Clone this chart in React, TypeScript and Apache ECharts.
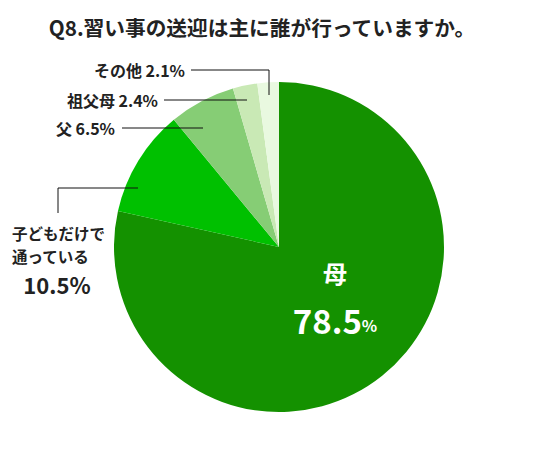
import * as echarts from "echarts";
import { useEffect, useRef } from "react";

const title = "Q8.習い事の送迎は主に誰が行っていますか。";
const names = ["母", "子どもだけで通っている", "父", "祖父母", "その他"];
const values = [78.5, 10.5, 6.5, 2.4, 2.1];
const colors = ["#149100", "#00c000", "#86cd75", "#c9e9b5", "#e9f9e0"];

const FONT = '"Noto Sans CJK JP", "Noto Sans", sans-serif';

const App: React.FC = () => {
    const node = useRef<HTMLDivElement>(null);

    useEffect(() => {
        document.body.style.margin = "0";
        const chart = echarts.init(node.current, null, { renderer: "svg" });

        const label = (text: string, x: number, y: number, size: number, align = "right") => ({
            type: "text",
            x,
            y,
            z: 100,
            style: {
                text,
                font: `bold ${size}px ${FONT}`,
                fill: "#222",
                align,
                verticalAlign: "middle",
            },
        });
        const line = (points: number[][]) => ({
            type: "polyline",
            z: 100,
            shape: { points },
            style: { stroke: "#111", lineWidth: 1, fill: null },
        });

        const option: echarts.EChartsOption = {
            animation: false,
            title: {
                text: title,
                left: 257,
                top: 12,
                textAlign: "center",
                textStyle: {
                    fontFamily: FONT,
                    fontSize: 20.7,
                    fontWeight: "bold",
                    color: "#222",
                },
            },
            series: [
                {
                    type: "pie",
                    center: [279, 247],
                    radius: 165,
                    startAngle: 90,
                    clockwise: true,
                    label: { show: false },
                    labelLine: { show: false },
                    itemStyle: { borderWidth: 0 },
                    data: names.map((n, i) => ({
                        name: n,
                        value: values[i],
                        itemStyle: { color: colors[i] },
                    })),
                },
            ],
            graphic: [
                label(`${names[4]} ${values[4]}%`, 185, 70, 16),
                label(`${names[3]} ${values[3]}%`, 158, 100, 16),
                label(`${names[2]} ${values[2]}%`, 115, 128, 16),
                label("子どもだけで", 12, 233, 15.5, "left"),
                label("通っている", 12, 256, 15.5, "left"),
                label(`${values[1]}%`, 57, 284, 22, "center"),
                line([[191, 70], [269, 70], [269, 95]]),
                line([[164, 100], [247, 100]]),
                line([[122, 128], [203, 128]]),
                line([[58, 213], [58, 188], [138, 188]]),
                {
                    type: "text",
                    x: 335,
                    y: 272,
                    z: 100,
                    style: {
                        text: names[0],
                        font: `bold 24px ${FONT}`,
                        fill: "#fff",
                        align: "center",
                        verticalAlign: "middle",
                    },
                },
                {
                    type: "text",
                    x: 335,
                    y: 320,
                    z: 100,
                    style: {
                        text: `{n|${values[0]}}{p|%}`,
                        align: "center",
                        verticalAlign: "middle",
                        rich: {
                            n: { font: `bold 33px ${FONT}`, fill: "#fff" },
                            p: { font: `bold 16px ${FONT}`, fill: "#fff", padding: [10, 0, 0, 0] },
                        },
                    },
                },
            ] as any,
        };
        chart.setOption(option);

        return () => {
            chart.dispose();
        };
    }, []);

    return <div style={{ width: 535, height: 450 }} ref={node}></div>;
};

export default App;
